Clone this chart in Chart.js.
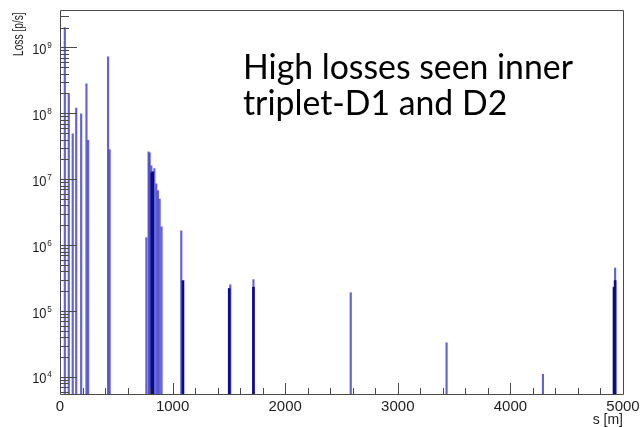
<!DOCTYPE html>
<html>
<head>
<meta charset="utf-8">
<script src="https://cdn.jsdelivr.net/npm/chart.js@4"></script>
<style>
  html, body { margin: 0; padding: 0; background: #fff; }
  #wrap { width: 641px; height: 427px; }
</style>
</head>
<body>
<div id="wrap"><canvas id="loss"></canvas></div>
<script>
// loss per position
const sLight = [43, 78, 113, 144, 188, 235, 250, 427, 441,
  767, 787, 796, 811, 838, 855, 870, 885, 902,
  1077, 1512, 1718, 2582, 3433, 4289, 4930];
const lossLight = [2.0e9, 2.0e8, 4.9e7, 1.2e8, 9.8e7, 2.8e8, 3.9e7, 7.2e8, 2.8e7,
  1.3e6, 2.6e7, 2.5e7, 1.6e7, 1.45e7, 8.5e6, 6.7e6, 5.0e6, 1.9e6,
  1.65e6, 2.5e5, 3.0e5, 1.9e5, 3.3e4, 1.1e4, 4.5e5];
const sDark = [815, 823, 1092, 1503, 1718, 4920, 4930];
const lossDark = [1.25e7, 1.3e7, 2.9e5, 2.2e5, 2.3e5, 2.3e5, 2.9e5];

const xTicks = [0, 1000, 2000, 3000, 4000, 5000];
const yDecades = [4, 5, 6, 7, 8, 9];
const annotation = ["High losses seen inner", "triplet-D1 and D2"];

function pts(xs, ys) {
  return xs.map((x, i) => ({ x: x, y: ys[i] }));
}

const rootAxes = {
  id: 'rootAxes',
  afterDraw(chart) {
    const ctx = chart.ctx;
    const a = chart.chartArea;
    const xs = chart.scales.x, ys = chart.scales.y;
    ctx.save();
    ctx.strokeStyle = '#4a4a4a';
    ctx.lineWidth = 1;
    ctx.beginPath();
    ctx.rect(Math.round(a.left) + 0.5, Math.round(a.top) + 0.5,
      Math.round(a.right - a.left), Math.round(a.bottom - a.top));
    ctx.stroke();

    // x ticks, inside
    ctx.beginPath();
    for (let v = 0; v <= 5000; v += 200) {
      const px = Math.round(xs.getPixelForValue(v)) + 0.5;
      const len = v % 1000 === 0 ? 11 : 6;
      ctx.moveTo(px, a.bottom);
      ctx.lineTo(px, a.bottom - len);
    }
    // y ticks, inside
    for (let k = 3; k <= 9; k++) {
      for (let m = 1; m <= 9; m++) {
        const v = m * Math.pow(10, k);
        if (v < ys.min || v > ys.max) continue;
        const py = Math.round(ys.getPixelForValue(v)) + 0.5;
        const len = m === 1 ? 17 : 9;
        ctx.moveTo(a.left, py);
        ctx.lineTo(a.left + len, py);
      }
    }
    ctx.stroke();

    ctx.fillStyle = '#1e1e1e';
    ctx.font = '15px "Liberation Sans", Arial, sans-serif';
    ctx.textAlign = 'center';
    ctx.textBaseline = 'alphabetic';
    xTicks.forEach(v => {
      ctx.fillText(String(v), xs.getPixelForValue(v), 411);
    });

    yDecades.forEach(k => {
      const py = ys.getPixelForValue(Math.pow(10, k));
      ctx.save();
      ctx.translate(46.5, py + 6.5);
      ctx.scale(0.86, 1);
      ctx.textAlign = 'right';
      ctx.font = '15px "Liberation Sans", Arial, sans-serif';
      ctx.fillText('10', 0, 0);
      ctx.textAlign = 'left';
      ctx.font = '9.5px "Liberation Sans", Arial, sans-serif';
      ctx.fillText(String(k), 1, -6);
      ctx.restore();
    });

    ctx.font = '14px "Liberation Sans", Arial, sans-serif';
    ctx.textAlign = 'right';
    ctx.fillText('s [m]', a.right, 424);

    ctx.save();
    ctx.translate(23, 56);
    ctx.rotate(-Math.PI / 2);
    ctx.scale(0.68, 1);
    ctx.textAlign = 'left';
    ctx.font = '15px "Liberation Sans", Arial, sans-serif';
    ctx.fillText('Loss [p/s]', 0, 0);
    ctx.restore();

    // annotation text
    ctx.fillStyle = '#000';
    ctx.textAlign = 'left';
    ctx.font = '100px Lato, "Open Sans", sans-serif';
    const size = 100 * 330 / ctx.measureText(annotation[0]).width;
    ctx.font = size.toFixed(2) + 'px Lato, "Open Sans", sans-serif';
    ctx.fillText(annotation[0], 243, 79);
    ctx.fillText(annotation[1], 243, 115);
    ctx.restore();
  }
};

let context = document.querySelector('#loss').getContext('2d');
new Chart(context, {
  type: 'bar',
  data: {
    datasets: [{
      label: 'dark',
      data: pts(sDark, lossDark),
      backgroundColor: 'rgb(10,10,140)',
      barThickness: 2
    }, {
      label: 'light',
      data: pts(sLight, lossLight),
      backgroundColor: 'rgba(60,60,200,0.8)',
      barThickness: 1.5
    }]
  },
  options: {
    responsive: true,
    maintainAspectRatio: false,
    animation: false,
    layout: { padding: { left: 60, right: 18, top: 10, bottom: 33 } },
    datasets: { bar: { grouped: false } },
    plugins: { legend: { display: false }, tooltip: { enabled: false } },
    scales: {
      x: { type: 'linear', min: 0, max: 5000, display: false, offset: false },
      y: { type: 'logarithmic', min: 5520, max: 3.69e9, display: false }
    }
  },
  plugins: [rootAxes]
});
</script>
</body>
</html>
